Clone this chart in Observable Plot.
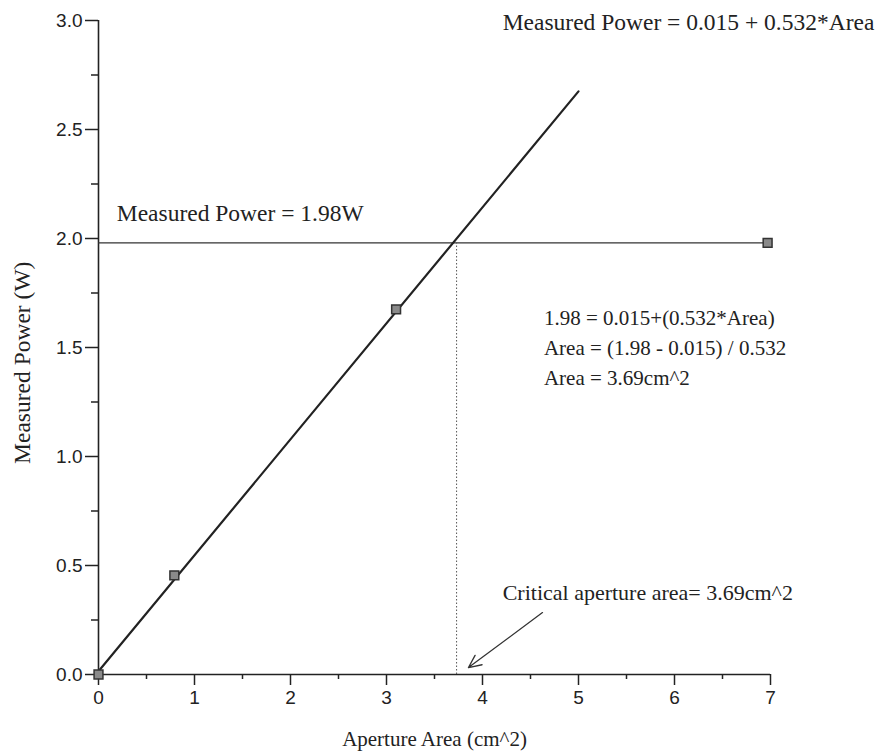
<!DOCTYPE html>
<html>
<head>
<meta charset="utf-8">
<script src="https://cdn.jsdelivr.net/npm/d3@7"></script>
<script src="https://cdn.jsdelivr.net/npm/@observablehq/plot@0.6"></script>
<style>
  html, body { margin: 0; padding: 0; background: #fff; }
  #chart svg { display: block; }
</style>
</head>
<body>
<div id="chart"></div>
<script>
// ---- data ----
const areaValues  = [0, 0.79, 3.10, 6.97];       // Aperture Area (cm^2)
const powerValues = [0, 0.455, 1.675, 1.98];      // Measured Power (W)
const fitX = [0, 5];                              // fitted line endpoints
const fitY = [0.015, 2.675];
const thresholdPower = 1.98;
const criticalArea = 3.73;
const xTicks = [0, 1, 2, 3, 4, 5, 6, 7];
const xMinorTicks = [0.5, 1.5, 2.5, 3.5, 4.5, 5.5, 6.5];
const yTicks = [0, 0.5, 1.0, 1.5, 2.0, 2.5, 3.0];
const yMinorTicks = [0.25, 0.75, 1.25, 1.75, 2.25, 2.75];
const xLabel = "Aperture Area (cm^2)";
const yLabel = "Measured Power (W)";
const fitLabel = "Measured Power = 0.015 + 0.532*Area";
const thresholdLabel = "Measured Power = 1.98W";
const calcLabel = "1.98 = 0.015+(0.532*Area)\nArea = (1.98 - 0.015) / 0.532\nArea = 3.69cm^2";
const criticalLabel = "Critical aperture area= 3.69cm^2";
const arrowFrom = [4.625, 0.284];
const arrowTo = [3.854, 0.032];

const points = areaValues.map((a, i) => ({area: a, power: powerValues[i]}));
const fitLine = fitX.map((a, i) => ({area: a, power: fitY[i]}));

const ink = "#222";
const serif = "'Liberation Serif', 'Times New Roman', serif";
const sans = "'Liberation Sans', Arial, sans-serif";

const chart = Plot.plot({
  width: 877,
  height: 756,
  marginLeft: 98,
  marginRight: 107,
  marginTop: 20,
  marginBottom: 82,
  style: {fontFamily: sans, fontSize: "19px", color: ink, background: "#fff"},
  x: {domain: [0, 7]},
  y: {domain: [0, 3]},
  marks: [
    // axes
    Plot.axisX(xTicks, {tickSize: 11, tickPadding: 5, tickFormat: d => String(d), label: null, fontSize: 19, stroke: ink, strokeWidth: 1.5, fill: ink}),
    Plot.axisX(xMinorTicks, {tickSize: 5, tickFormat: null, text: null, label: null, stroke: ink, strokeWidth: 1.5}),
    Plot.axisY(yTicks, {tickSize: 13, tickPadding: 3, tickFormat: d3.format(".1f"), label: null, fontSize: 19, stroke: ink, strokeWidth: 1.5, fill: ink}),
    Plot.axisY(yMinorTicks, {tickSize: 7, tickFormat: null, text: null, label: null, stroke: ink, strokeWidth: 1.5}),
    Plot.ruleX([0], {y1: 0, y2: 3, stroke: ink, strokeWidth: 1.6}),
    Plot.ruleY([0], {x1: 0, x2: 7, stroke: ink, strokeWidth: 1.6}),
    // threshold line and dotted drop line
    Plot.ruleY([thresholdPower], {x1: 0, x2: areaValues[areaValues.length - 1], stroke: "#333", strokeWidth: 1.3}),
    Plot.ruleX([criticalArea], {y1: 0, y2: thresholdPower, stroke: "#555", strokeWidth: 1, strokeDasharray: "1.5,2"}),
    // fit line
    Plot.line(fitLine, {x: "area", y: "power", stroke: ink, strokeWidth: 2.2}),
    // data points
    Plot.dot(points, {x: "area", y: "power", symbol: "square", r: 5, fill: "#8a8a8a", stroke: "#333", strokeWidth: 1.5}),
    // arrow
    Plot.arrow([{x1: arrowFrom[0], y1: arrowFrom[1], x2: arrowTo[0], y2: arrowTo[1]}],
      {x1: "x1", y1: "y1", x2: "x2", y2: "y2", stroke: "#333", strokeWidth: 1.3, headLength: 16, headAngle: 50}),
    // annotations
    Plot.text([fitLabel], {x: 4.21, y: 2.99, text: d => d, textAnchor: "start", fontFamily: serif, fontSize: 23.5, fill: ink}),
    Plot.text([thresholdLabel], {x: 0.19, y: 2.115, text: d => d, textAnchor: "start", fontFamily: serif, fontSize: 23.5, fill: ink}),
    Plot.text([calcLabel], {x: 4.64, y: 1.51, text: d => d, textAnchor: "start", lineAnchor: "middle", lineHeight: 1.43, fontFamily: serif, fontSize: 21, fill: ink}),
    Plot.text([criticalLabel], {x: 4.21, y: 0.376, text: d => d, textAnchor: "start", fontFamily: serif, fontSize: 22, fill: ink}),
    // axis titles
    Plot.text([xLabel], {frameAnchor: "bottom", dy: 71, text: d => d, fontFamily: serif, fontSize: 21, fill: ink}),
    Plot.text([yLabel], {frameAnchor: "left", y: 1.43, dx: -76, rotate: -90, textAnchor: "middle", text: d => d, fontFamily: serif, fontSize: 23.5, fill: ink})
  ]
});

// enlarge the axis tick labels (sans-serif, as in the reference)
d3.select(chart).selectAll('g[aria-label*="axis"] text')
  .style("font-size", "19px")
  .style("font-family", sans);

document.getElementById("chart").appendChild(chart);
</script>
</body>
</html>
